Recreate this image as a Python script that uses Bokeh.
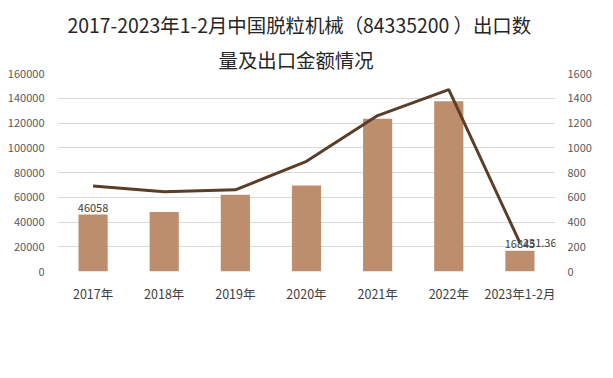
from bokeh.plotting import figure
from bokeh.models import (Range1d, LinearAxis, Legend, LegendItem, Title,
                          FixedTicker, NumeralTickFormatter)
from bokeh.core.properties import value
from bokeh.embed import file_html
from bokeh.resources import INLINE

categories = ["2017年", "2018年", "2019年", "2020年", "2021年", "2022年", "2023年1-2月"]
quantity = [46058, 48000, 62000, 69500, 123500, 137500, 16845]      # 出口数量：台
amount = [690, 645, 660, 890, 1260, 1470, 231.36]                    # 出口金额：万美元
left_ticks = [0, 20000, 40000, 60000, 80000, 100000, 120000, 140000, 160000]
right_ticks = [0, 200, 400, 600, 800, 1000, 1200, 1400, 1600]
qty_label_idx = [0, 6]
amt_label_idx = [6]

FONT = "Noto Sans CJK SC"
BAR = "#BC8E6E"
LINE = "#5B3D28"
GRAY = "#595959"
DARK = "#262626"

xs = list(range(len(categories)))

p = figure(x_range=Range1d(-0.5, len(categories) - 0.5), y_range=Range1d(0, 160000),
           frame_width=498, frame_height=198, output_backend="svg", toolbar_location=None,
           min_border_left=57, min_border_right=58, min_border_top=73, min_border_bottom=107,
           title=None)
p.extra_y_ranges = {"amt": Range1d(0, 1600)}
p.outline_line_color = None

bars = p.vbar(x=xs, top=quantity, width=0.41, fill_color=BAR, line_color=None)
line = p.line(x=xs, y=amount, y_range_name="amt", line_color=LINE, line_width=3)

p.text(x=[xs[i] for i in qty_label_idx], y=[quantity[i] for i in qty_label_idx],
       text=[str(quantity[i]) for i in qty_label_idx],
       text_font=value(FONT), text_font_size="11px", text_color="#404040",
       text_align="center", text_baseline="bottom", y_offset=-3)
p.text(x=[xs[i] for i in amt_label_idx], y=[amount[i] for i in amt_label_idx],
       text=["%.2f" % amount[i] for i in amt_label_idx],
       y_range_name="amt", text_font=value(FONT), text_font_size="11px", text_color="#404040",
       text_align="left", text_baseline="middle", x_offset=3)

# axes
p.xaxis.ticker = FixedTicker(ticks=xs)
p.xaxis.major_label_overrides = {i: c for i, c in zip(xs, categories)}
p.xaxis.axis_line_color = None
p.xaxis.major_tick_line_color = None
p.xaxis.minor_tick_line_color = None
p.xaxis.major_tick_out = 0
p.xaxis.minor_tick_out = 0
p.xaxis.major_label_standoff = 12
p.xaxis.major_label_text_font = FONT
p.xaxis.major_label_text_font_size = "12.5px"
p.xaxis.major_label_text_color = "#404040"

p.yaxis.ticker = FixedTicker(ticks=left_ticks)
p.yaxis.formatter = NumeralTickFormatter(format="0")
p.yaxis.axis_line_color = None
p.yaxis.major_tick_line_color = None
p.yaxis.minor_tick_line_color = None
p.yaxis.major_tick_out = 0
p.yaxis.minor_tick_out = 0
p.yaxis.major_label_standoff = 13
p.yaxis.major_label_text_font = FONT
p.yaxis.major_label_text_font_size = "11px"
p.yaxis.major_label_text_color = GRAY

ax2 = LinearAxis(y_range_name="amt", ticker=FixedTicker(ticks=right_ticks),
                 formatter=NumeralTickFormatter(format="0"))
ax2.axis_line_color = None
ax2.major_tick_line_color = None
ax2.minor_tick_line_color = None
ax2.major_tick_out = 0
ax2.minor_tick_out = 0
ax2.major_label_standoff = 12
ax2.major_label_text_font = FONT
ax2.major_label_text_font_size = "11px"
ax2.major_label_text_color = GRAY
p.add_layout(ax2, "right")

p.xgrid.grid_line_color = None
p.ygrid.ticker = FixedTicker(ticks=left_ticks)
p.ygrid.grid_line_color = "#D9D9D9"

legend = Legend(items=[LegendItem(label="出口数量：台", renderers=[bars]),
                       LegendItem(label="出口金额：万美元", renderers=[line])],
                orientation="horizontal", location="center",
                label_text_font=FONT, label_text_font_size="13px", label_text_color="#404040",
                glyph_width=26, glyph_height=7, label_height=16, label_standoff=3,
                spacing=58, padding=0, margin=10, border_line_color=None,
                background_fill_alpha=0)
p.add_layout(legend, "below")

# footer texts
p.add_layout(Title(text="制图：共研产业咨询（共研网）", align="left", offset=-40,
                   text_font=FONT, text_font_size="13px", text_font_style="normal",
                   text_color=DARK, standoff=4), "below")
p.add_layout(Title(text="www.gonyn.com", align="right", offset=-29,
                   text_font=FONT, text_font_size="13px", text_font_style="normal",
                   text_color=DARK, standoff=2), "below")

# title (two lines)
p.add_layout(Title(text="量及出口金额情况", align="left", offset=161, text_font=FONT,
                   text_font_size="19.4px", text_font_style="normal", text_color=DARK,
                   standoff=0), "above")
p.add_layout(Title(text="2017-2023年1-2月中国脱粒机械（84335200 ）出口数", align="left",
                   offset=10, text_font=FONT, text_font_size="19.4px",
                   text_font_style="normal", text_color=DARK, standoff=8), "above")

open("out.html", "w").write(file_html(p, INLINE))
